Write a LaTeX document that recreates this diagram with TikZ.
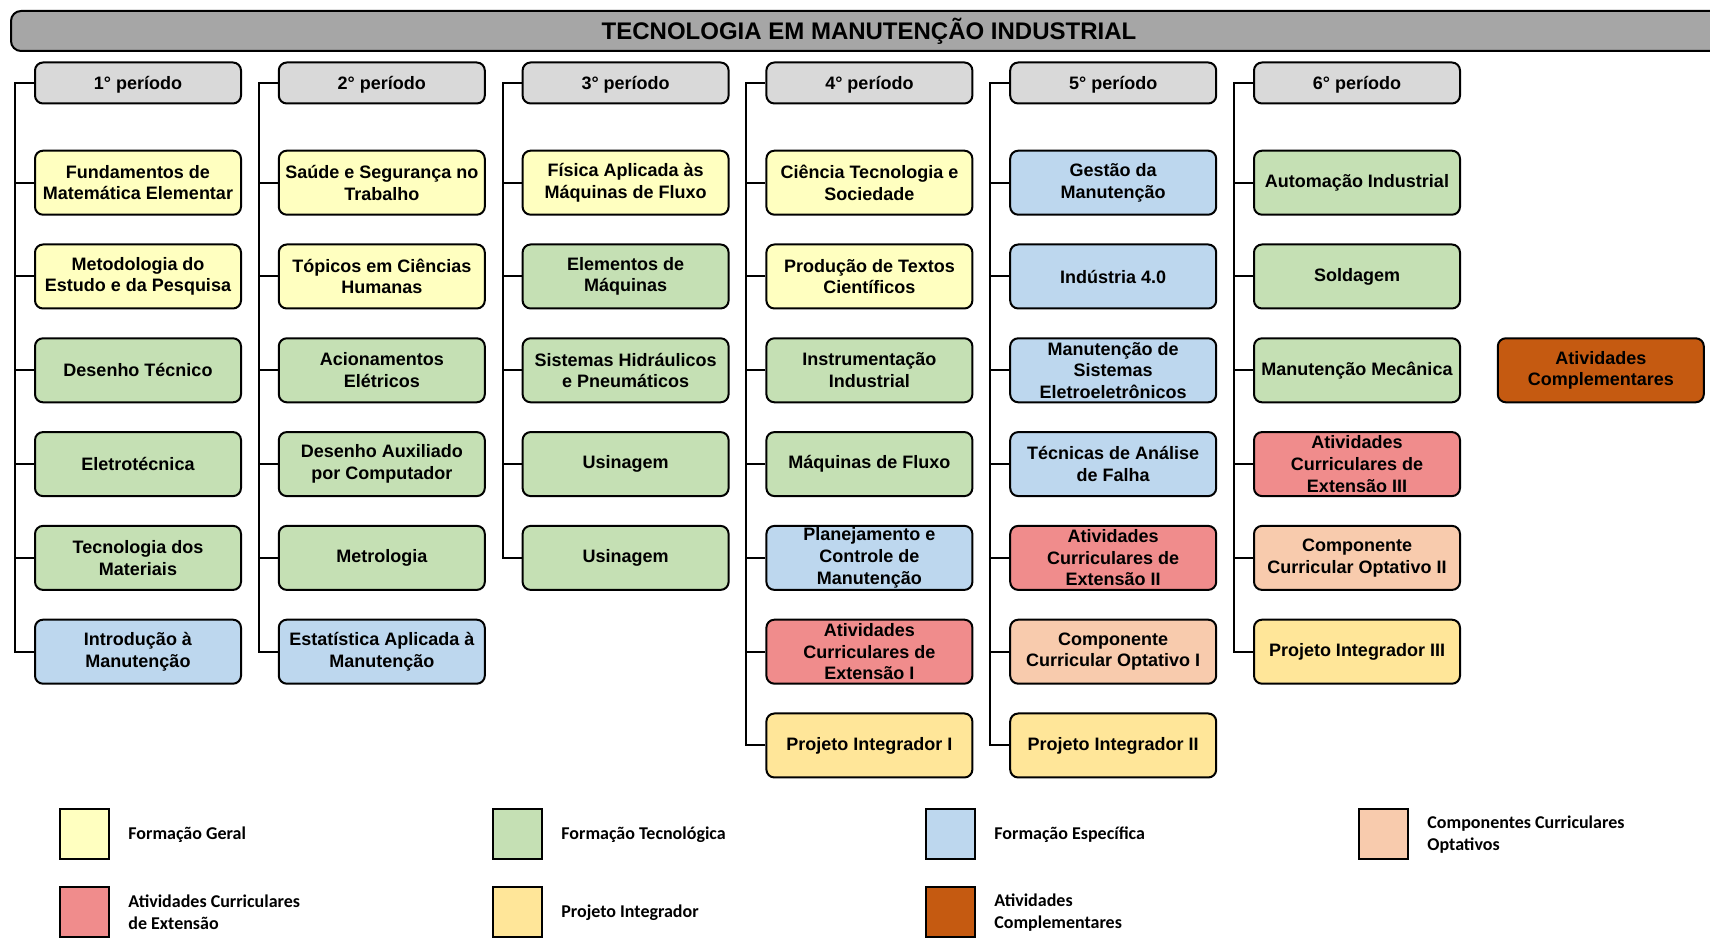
\documentclass[tikz,border=0pt]{standalone}
\usepackage{fontspec}
\setmainfont{Liberation Sans}
\newfontfamily\legfont{Carlito}
\definecolor{geral}{HTML}{FFFFC0}
\definecolor{tecno}{HTML}{C5E0B4}
\definecolor{especif}{HTML}{BDD7EE}
\definecolor{optat}{HTML}{F8CBAD}
\definecolor{extens}{HTML}{F08C8C}
\definecolor{integr}{HTML}{FFE699}
\definecolor{complem}{HTML}{C55A11}
\definecolor{cinza}{HTML}{D9D9D9}
\definecolor{barra}{HTML}{A6A6A6}

\tikzset{
  disc/.style={draw, line width=1pt, rounded corners=4pt, minimum width=103pt, minimum height=32pt,
    align=center, inner sep=1pt, font=\bfseries\fontsize{9}{10.8}\selectfont},
  periodo/.style={disc, fill=cinza, minimum height=20.5pt, text depth=0pt},
  ramo/.style={line width=1pt},
  leg/.style={draw, line width=1pt, minimum width=24.5pt, minimum height=25pt, inner sep=0pt},
  legtxt/.style={anchor=west, align=left, inner sep=0pt, font=\legfont\bfseries\fontsize{9}{11}\selectfont}
}

\begin{document}
\begin{tikzpicture}[x=0.5pt, y=-0.5pt]
    \clip (0,0) rectangle (1710,940);
    \fill[white] (0,0) rectangle (1710,940);

    % titulo
    \draw[ramo, fill=barra, rounded corners=5pt] (11,11) rectangle (1760,51);
    \node[font=\bfseries\fontsize{12}{14}\selectfont] (titulo) at (869,31) {TECNOLOGIA EM MANUTENÇÃO INDUSTRIAL};

    % periodos
    \foreach \i in {1,...,6}
        \node[periodo] (p\i) at ({138+243.8*(\i-1)}, 83) {\i{}° período};

    % 1o periodo
    \foreach \k/\cor/\txt in {1/geral/{Fundamentos de\\Matemática Elementar}, 2/geral/{Metodologia do\\Estudo e da Pesquisa},
        3/tecno/{Desenho Técnico}, 4/tecno/{Eletrotécnica}, 5/tecno/{Tecnologia dos\\Materiais}, 6/especif/{Introdução à\\Manutenção}}
        \node[disc, fill=\cor] (a\k) at (138, {182.7+93.8*(\k-1)}) {\txt};

    % 2o periodo
    \foreach \k/\cor/\txt in {1/geral/{Saúde e Segurança no\\Trabalho}, 2/geral/{Tópicos em Ciências\\Humanas},
        3/tecno/{Acionamentos\\Elétricos}, 4/tecno/{Desenho Auxiliado\\por Computador}, 5/tecno/{Metrologia}, 6/especif/{Estatística Aplicada à\\Manutenção}}
        \node[disc, fill=\cor] (b\k) at (381.8, {182.7+93.8*(\k-1)}) {\txt};

    % 3o periodo
    \foreach \k/\cor/\txt in {1/geral/{Física Aplicada às\\Máquinas de Fluxo}, 2/tecno/{Elementos de\\Máquinas},
        3/tecno/{Sistemas Hidráulicos\\e Pneumáticos}, 4/tecno/{Usinagem}, 5/tecno/{Usinagem}}
        \node[disc, fill=\cor] (c\k) at (625.6, {182.7+93.8*(\k-1)}) {\txt};

    % 4o periodo
    \foreach \k/\cor/\txt in {1/geral/{Ciência Tecnologia e\\Sociedade}, 2/geral/{Produção de Textos\\Científicos},
        3/tecno/{Instrumentação\\Industrial}, 4/tecno/{Máquinas de Fluxo}, 5/especif/{Planejamento e\\Controle de\\Manutenção},
        6/extens/{Atividades\\Curriculares de\\Extensão I}, 7/integr/{Projeto Integrador I}}
        \node[disc, fill=\cor] (d\k) at (869.4, {182.7+93.8*(\k-1)}) {\txt};

    % 5o periodo
    \foreach \k/\cor/\txt in {1/especif/{Gestão da\\Manutenção}, 2/especif/{Indústria 4.0},
        3/especif/{Manutenção de\\Sistemas\\Eletroeletrônicos}, 4/especif/{Técnicas de Análise\\de Falha},
        5/extens/{Atividades\\Curriculares de\\Extensão II}, 6/optat/{Componente\\Curricular Optativo I}, 7/integr/{Projeto Integrador II}}
        \node[disc, fill=\cor] (e\k) at (1113.2, {182.7+93.8*(\k-1)}) {\txt};

    % 6o periodo
    \foreach \k/\cor/\txt in {1/tecno/{Automação Industrial}, 2/tecno/{Soldagem}, 3/tecno/{Manutenção Mecânica},
        4/extens/{Atividades\\Curriculares de\\Extensão III}, 5/optat/{Componente\\Curricular Optativo II}, 6/integr/{Projeto Integrador III}}
        \node[disc, fill=\cor] (f\k) at (1357, {182.7+93.8*(\k-1)}) {\txt};

    \node[disc, fill=complem] (ac) at (1600.8, 370.3) {Atividades\\Complementares};

    % ramos
    \foreach \c/\p/\n in {a/1/6, b/2/6, c/3/5, d/4/7, e/5/7, f/6/6} {
        \draw[ramo] (p\p.west) -- ++(-19,0) |- (\c\n.west);
        \foreach \k in {1,...,\n}
            \draw[ramo] (\c\k.west) -- ++(-19,0);
    }

    % legenda
    \foreach \x/\y/\cor/\txt in {84.5/834.5/geral/{Formação Geral}, 517.5/834.5/tecno/{Formação Tecnológica},
        950.5/834.5/especif/{Formação Específica}, 1383.5/834.5/optat/{Componentes Curriculares\\Optativos},
        84.5/912.5/extens/{Atividades Curriculares\\de Extensão}, 517.5/912.5/integr/{Projeto Integrador},
        950.5/912.5/complem/{Atividades\\Complementares}} {
        \node[leg, fill=\cor] (q\cor) at (\x,\y) {};
        \node[legtxt] (t\cor) at ([xshift=9pt]q\cor.east) {\txt};
    }
\end{tikzpicture}
\end{document}
